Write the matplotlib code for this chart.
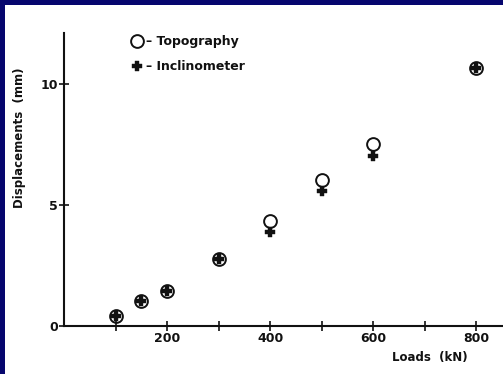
import matplotlib.pyplot as plt
from matplotlib.patches import Rectangle

# load steps (kN) and measured displacements (mm)
loads = [100, 150, 200, 300, 400, 500, 600, 800]
topography = [0.41, 1.03, 1.45, 2.78, 4.35, 6.02, 7.51, 10.65]
inclinometer = [0.41, 1.03, 1.45, 2.78, 3.87, 5.59, 7.02, 10.65]

x_ticks = [100, 200, 300, 400, 500, 600, 700, 800]
x_labels = ["", "200", "", "400", "", "600", "", "800"]
y_ticks = [0, 5, 10]

ink = "#111111"

fig = plt.figure(figsize=(5.03, 3.74), dpi=100)
fig.patch.set_facecolor("#06066e")
# white slide area inside the blue frame
fig.add_artist(Rectangle((5 / 503, 0), 1, 1 - 5 / 374, transform=fig.transFigure,
                         facecolor="white", edgecolor="none", zorder=-10))

ax = fig.add_axes([64 / 503, 48 / 374, 439 / 503, 293 / 374])
ax.set_facecolor("none")

ax.plot(loads, topography, linestyle="none", marker="o", markersize=9.2,
        markerfacecolor="none", markeredgecolor=ink, markeredgewidth=1.4,
        label="– Topography")
ax.plot(loads, inclinometer, linestyle="none", marker="P", markersize=6.5,
        markerfacecolor=ink, markeredgecolor=ink, markeredgewidth=0.3,
        label="– Inclinometer")

ax.set_xlim(0, 852)
ax.set_ylim(0, 12.1)

for side in ["top", "right"]:
    ax.spines[side].set_visible(False)
for side in ["left", "bottom"]:
    ax.spines[side].set_linewidth(1.5)
    ax.spines[side].set_color(ink)

ax.set_xticks(x_ticks)
ax.set_xticklabels(x_labels)
ax.set_yticks(y_ticks)
ax.tick_params(axis="both", direction="inout", length=7, width=1.2, color=ink,
               labelsize=9, labelcolor=ink)
ax.tick_params(axis="x", pad=1)
ax.tick_params(axis="y", pad=1)
for lab in ax.get_xticklabels() + ax.get_yticklabels():
    lab.set_fontweight("bold")

fig.text(20 / 503, 1 - 138 / 374, "Displacements  (mm)", rotation=90,
         ha="center", va="center", fontsize=8.5, fontweight="bold", color=ink)
fig.text(430 / 503, 1 - 357 / 374, "Loads  (kN)", ha="center", va="center",
         fontsize=8.5, fontweight="bold", color=ink)

ax.legend(loc="upper left", bbox_to_anchor=(0.13, 1.03), frameon=False,
          handlelength=0.8, handletextpad=0.3, labelspacing=0.95,
          prop={"size": 9, "weight": "bold"}, labelcolor=ink)

fig.savefig("out.png", dpi=100, facecolor=fig.get_facecolor())
